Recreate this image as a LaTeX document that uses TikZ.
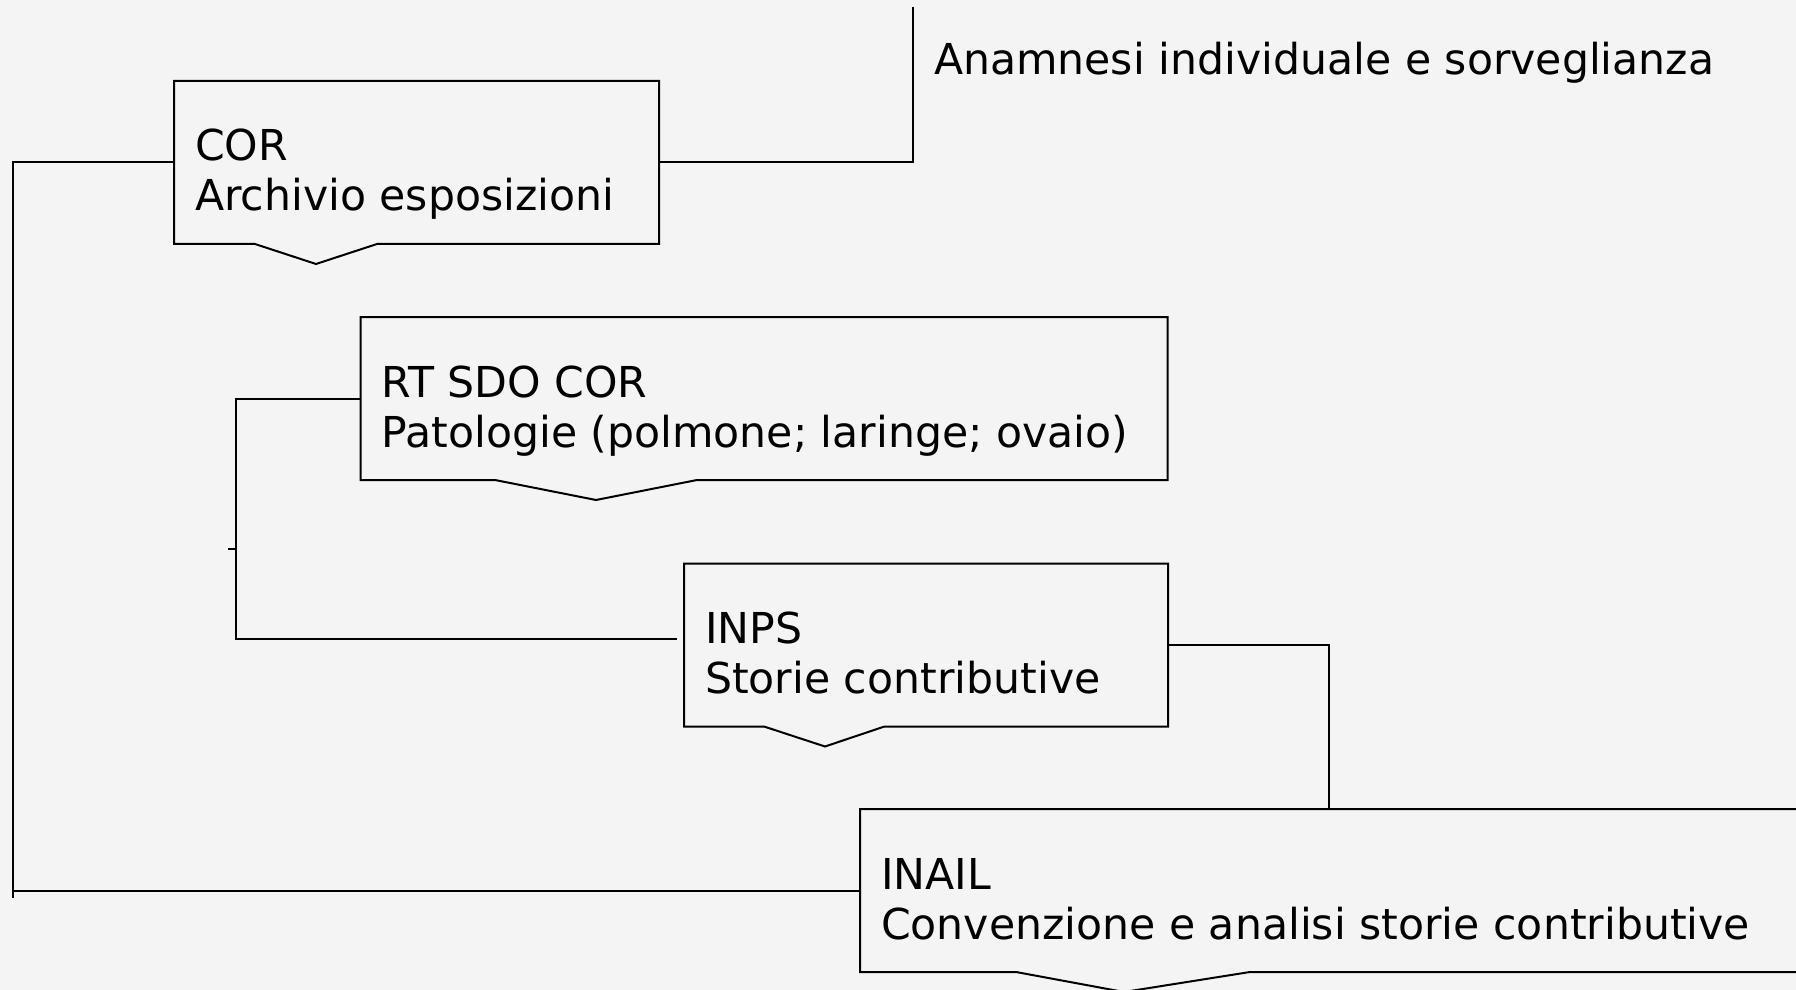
\documentclass[tikz,border=0pt]{standalone}
\usepackage{fontspec}
\setmainfont{DejaVu Sans}
\usetikzlibrary{calc}
\definecolor{paper}{HTML}{F4F4F4}
\newcommand{\notch}{20}
% outline of a box with a notch under it: name, notch start, tip, notch end
\newcommand{\notchbox}[4]{%
  \draw[line join=miter] (#1.south west) -- ++(#2,0) -- ($(#1.south west)+(#3,\notch)$)
    -- ($(#1.south west)+(#4,0)$) -- (#1.south east) -- (#1.north east)
    -- (#1.north west) -- cycle;}
\tikzset{
  frame/.style={rectangle, inner sep=0pt, outer sep=0pt, minimum height=81.5pt, anchor=north west},
  label text/.style={inner sep=0pt, anchor=base west, align=left,
    font=\fontsize{21.3}{25}\selectfont}
}

\begin{document}
\begin{tikzpicture}[x=0.5pt, y=-0.5pt, line width=1pt]
  \fill[paper] (0,0) rectangle (1796,990);
  \useasboundingbox (0,0) rectangle (1796,990);

  \node[frame, minimum width=242.5pt] (cor) at (174,81) {};
  \node[frame, minimum width=403.5pt] (rt) at (360.5,317) {};
  \node[frame, minimum width=242pt] (inps) at (684,563.5) {};
  \node[frame, minimum width=490pt] (inail) at (860,809) {};

  \notchbox{cor}{81}{142}{203}
  \notchbox{rt}{134.5}{235.5}{336.5}
  \notchbox{inps}{80}{141}{200.5}
  \notchbox{inail}{156}{264}{390}

  % base anchor sits on the second line
  \node[label text] (cor-txt) at ($(cor.north west)+(20,130)$) {COR\\Archivio esposizioni};
  \node[label text] (rt-txt) at ($(rt.north west)+(20,130)$) {RT SDO COR\\Patologie (polmone; laringe; ovaio)};
  \node[label text] (inps-txt) at ($(inps.north west)+(20,130)$) {INPS\\Storie contributive};
  \node[label text] (inail-txt) at ($(inail.north west)+(20,130)$) {INAIL\\Convenzione e analisi storie contributive};
  \node[label text] (anam) at (933,75) {Anamnesi individuale e sorveglianza};

  % connectors
  \coordinate (top) at (912.5,7);
  \coordinate (low) at (12.5,897.5);
  \coordinate (jn) at (235.5,549);
  \draw (cor.east) -| (top);
  \draw (cor.west) -| (low);
  \draw (inail.west) -- (low |- inail.west);
  \draw (rt.west) -| (jn) -- ++(-8,0);
  \draw (jn) |- ($(inps.west)+(-7,-6)$);
  \draw (inps.east) -| ($(inail.north west)+(468.5,0)$);
\end{tikzpicture}
\end{document}
